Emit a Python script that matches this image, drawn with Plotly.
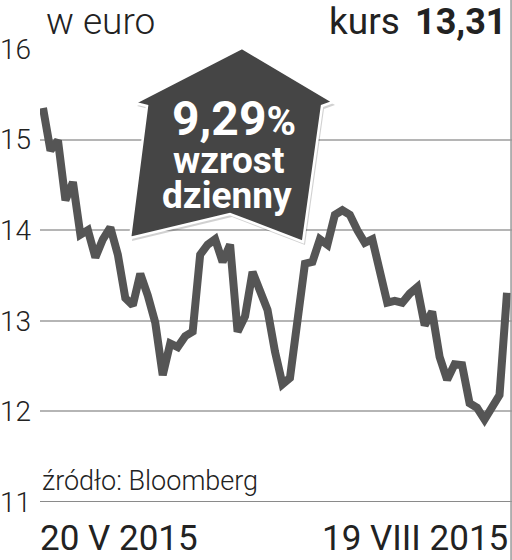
"""Kurs akcji w euro – wykres liniowy z plakietką wzrostu dziennego."""
import plotly.graph_objects as go

# Notowania (EUR) od 20 V 2015 do 19 VIII 2015
kurs = [15.35, 14.88, 14.99, 14.33, 14.53, 13.95, 14.0, 13.7, 13.9, 14.03,
        13.73, 13.25, 13.17, 13.52, 13.28, 12.98, 12.4, 12.75, 12.71, 12.83,
        12.88, 13.73, 13.84, 13.9, 13.65, 13.84, 12.88, 13.05, 13.54, 13.34,
        13.12, 12.66, 12.3, 12.37, 13.0, 13.63, 13.65, 13.9, 13.84, 14.17,
        14.22, 14.17, 14.0, 13.86, 13.9, 13.58, 13.2, 13.22, 13.2, 13.3,
        13.37, 12.95, 13.1, 12.6, 12.35, 12.52, 12.51, 12.09, 12.04, 11.91,
        12.04, 12.18, 13.31]
y_ticks = [11, 12, 13, 14, 15, 16]
date_labels = ["20 V 2015", "19 VIII 2015"]
badge_lines = ["9,29%", "wzrost", "dzienny"]
last_price = "13,31"

W, H = 512, 560
L, R, T, B = 40, 0, 49, 58
PW, PH = W - L - R, H - T - B

FONT = "Roboto"
DARK = "#222222"
LINE = "#555555"
BADGE = "#454545"


def px(x, y):
    """Pixel position -> paper coords."""
    return (x - L) / PW, (H - B - y) / PH


def path(points):
    pts = [px(x, y) for x, y in points]
    return "M " + " L ".join(f"{a:.4f},{b:.4f}" for a, b in pts) + " Z"


n = len(kurs)
step = 464 / (n - 1)
x_idx = list(range(n))

fig = go.Figure()
fig.add_trace(go.Scatter(
    x=x_idx, y=kurs, mode="lines",
    line=dict(color=LINE, width=8),
    showlegend=False, hoverinfo="skip",
))

badge = [(242, 48), (333, 102), (322, 106), (303, 242), (230, 214),
         (130, 238), (147, 106), (135, 103)]
shadow = [(x + 2, y + 3) for x, y in badge]

shapes = [
    # shadow + badge
    dict(type="path", xref="paper", yref="paper", path=path(shadow),
         fillcolor="rgba(0,0,0,0.18)", line=dict(width=0), layer="above"),
    dict(type="path", xref="paper", yref="paper", path=path(badge),
         fillcolor=BADGE, line=dict(color="white", width=2.5), layer="above"),
    # bottom axis line
    dict(type="line", xref="paper", yref="y", x0=0, x1=1, y0=11, y1=11,
         line=dict(color="#8a8a8a", width=2), layer="below"),
    # right frame edge
    dict(type="line", xref="paper", yref="paper", x0=0.998, x1=0.998, y0=-0.13, y1=1.11,
         line=dict(color="#999999", width=1.5)),
]

annotations = []


def note(text, x, y, size, weight=400, xanchor="left", color=DARK, yanchor="middle"):
    ax, ay = px(x, y)
    annotations.append(dict(
        text=text, x=ax, y=ay, xref="paper", yref="paper",
        xanchor=xanchor, yanchor=yanchor, showarrow=False,
        font=dict(family=FONT, size=size, color=color, weight=weight),
    ))


note("w euro", 44, 22, 37, weight=300)
note("kurs", 327, 22, 37, weight=400)
note(f"<b>{last_price}</b>", 508, 22, 36, weight=700, xanchor="right")
note("źródło: Bloomberg", 40, 481, 27, weight=300)
note(date_labels[0], 38, 538, 35, weight=400)
note(date_labels[1], 510, 538, 35, weight=400, xanchor="right")

pct = badge_lines[0]
note(f"<b>{pct[:-1]}<span style='font-size:40px'>%</span></b>", 234, 118, 48,
     weight=700, xanchor="center", color="white")
note(f"<b>{badge_lines[1]}</b>", 228, 160, 37, weight=700, xanchor="center", color="white")
note(f"<b>{badge_lines[2]}</b>", 227, 195, 37, weight=700, xanchor="center", color="white")

fig.update_layout(
    width=W, height=H,
    margin=dict(l=L, r=R, t=T, b=B),
    paper_bgcolor="white", plot_bgcolor="white",
    font=dict(family=FONT, color=DARK),
    showlegend=False,
    xaxis=dict(range=[-3 / step, n - 1 + 5 / step], visible=False, fixedrange=True),
    yaxis=dict(
        range=[11, 16], tickvals=y_ticks, ticktext=[str(v) for v in y_ticks],
        showgrid=True, gridcolor="#b5b5b5", gridwidth=1.5, zeroline=False,
        showline=False, ticks="", ticklabelstandoff=8,
        tickfont=dict(family=FONT, size=28, color=DARK, weight=300),
        fixedrange=True,
    ),
    shapes=shapes,
    annotations=annotations,
)

fig.write_html("out.html", config={"displayModeBar": False},
               post_script="document.body.style.margin='0';")
